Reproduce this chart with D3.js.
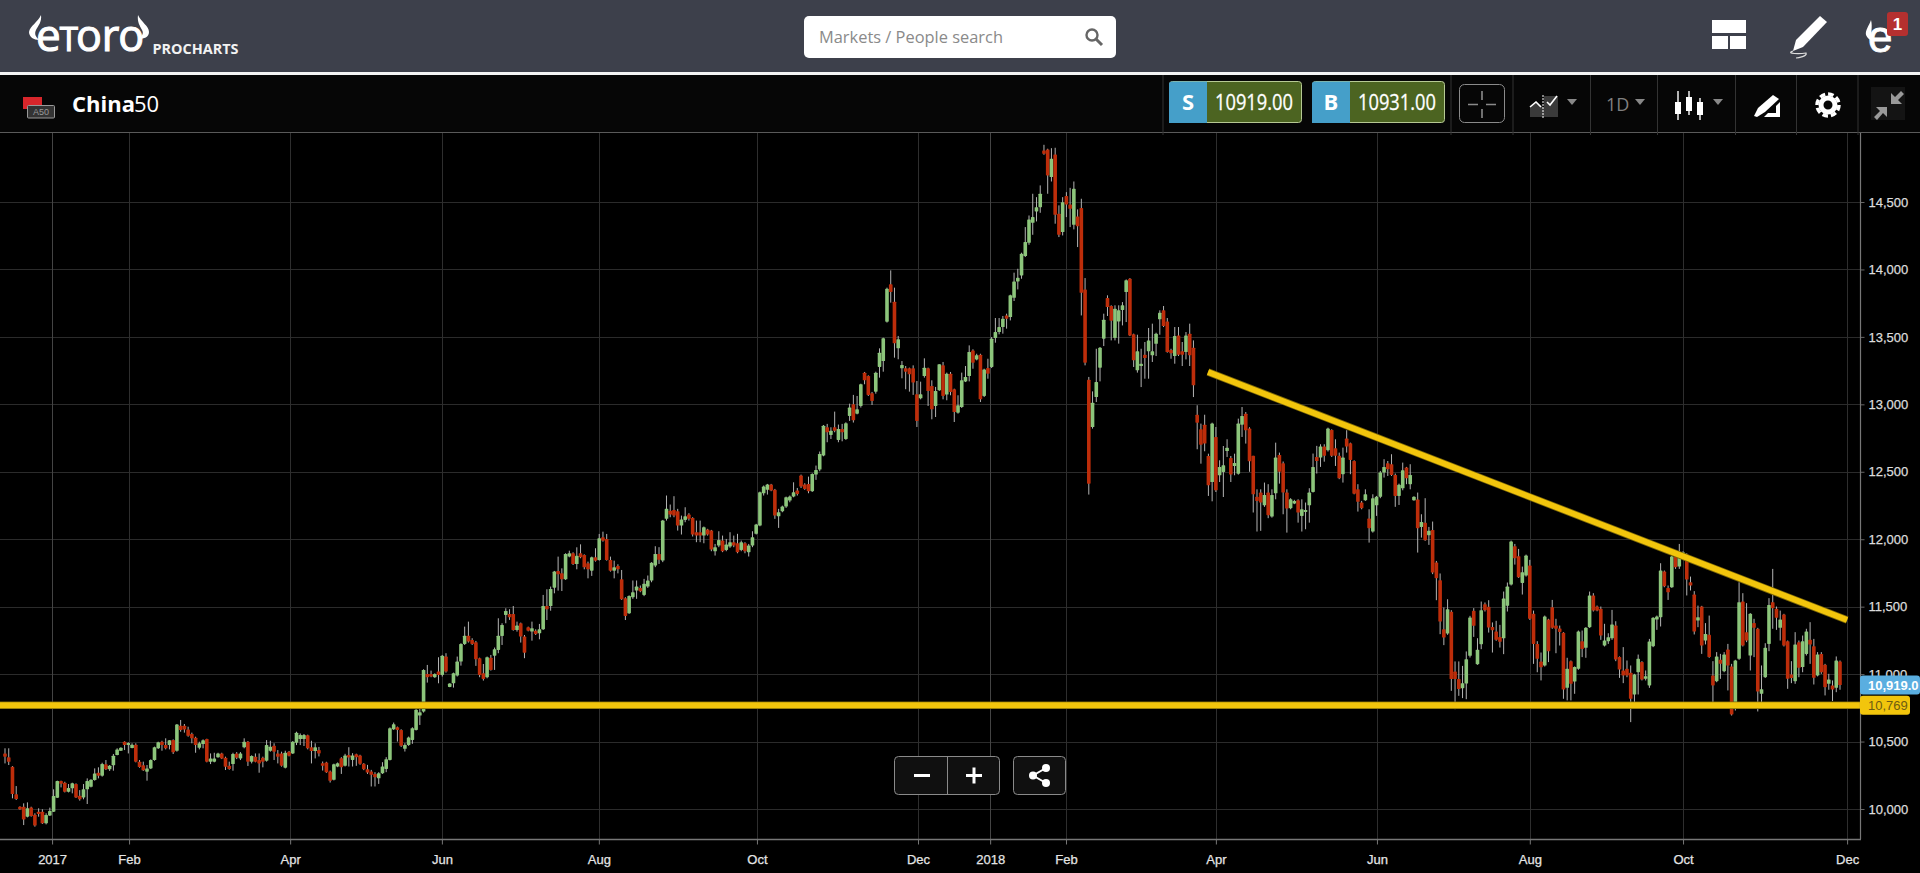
<!DOCTYPE html>
<html>
<head>
<meta charset="utf-8">
<title>China50</title>
<script src="https://cdn.jsdelivr.net/npm/d3@7"></script>
<style>
  html, body { margin: 0; padding: 0; background: #000; overflow: hidden; }
  svg { display: block; }
  text { font-family: "Liberation Sans", Arial, sans-serif; }
  .ui { font-family: "Open Sans", sans-serif; }
</style>
</head>
<body>
<script>
// daily candles, oldest first
const opens = [
  10412,10383,10313,10109,10017,10017,9943,10012,9958,9980,
  9980,9894,9951,9980,10084,10207,10195,10128,10153,10185,
  10099,10086,10146,10165,10215,10269,10247,10331,10294,10324,
  10400,10432,10499,10485,10452,10477,10351,10324,10277,10301,
  10363,10450,10499,10474,10474,10511,10432,10618,10618,10590,
  10556,10529,10454,10482,10519,10351,10351,10383,10412,10380,
  10321,10333,10412,10375,10457,10499,10351,10388,10363,10380,
  10358,10432,10469,10412,10412,10306,10425,10412,10492,10519,
  10519,10546,10457,10430,10437,10339,10344,10278,10216,10315,
  10376,10320,10401,10364,10406,10396,10335,10295,10278,10260,
  10228,10265,10297,10364,10591,10606,10586,10446,10475,10512,
  10586,10693,10722,11001,11001,10977,11019,10994,11130,10905,
  10932,10989,11093,11224,11285,11253,11236,11118,11006,10977,
  11122,11137,11179,11283,11439,11446,11446,11327,11377,11278,
  11347,11315,11322,11303,11332,11505,11505,11641,11765,11747,
  11703,11871,11896,11816,11896,11883,11821,11767,11866,11846,
  12014,12002,11846,11767,11802,11703,11562,11451,11570,11620,
  11639,11587,11649,11694,11805,11891,11842,12151,12212,12217,
  12207,12101,12143,12183,12158,12052,12052,12027,12072,12064,
  11911,11953,11990,11921,11946,11978,11970,11921,11970,11904,
  11953,12040,12101,12341,12366,12405,12366,12170,12207,12242,
  12287,12316,12361,12472,12405,12410,12356,12479,12516,12620,
  12830,12773,12830,12736,12818,12743,12914,13000,12931,12988,
  13235,13210,13082,13094,13277,13321,13613,13890,13761,13415,
  13267,13267,13267,13267,13074,13045,13210,13267,13136,12988,
  13104,13289,13072,13227,13111,12938,12980,13170,13210,13400,
  13333,13368,13062,13269,13277,13492,13536,13573,13659,13647,
  13790,13911,13956,14099,14198,14346,14430,14462,14882,14890,
  14685,14853,14413,14277,14544,14482,14331,14393,14455,13852,
  13183,12832,13054,13272,13487,13788,13729,13492,13615,13699,
  13832,13931,13519,13252,13284,13368,13393,13363,13449,13630,
  13697,13615,13403,13358,13511,13393,13388,13524,13420,12923,
  12815,12849,12617,12424,12758,12474,12499,12654,12602,12543,
  12486,12849,12931,12820,12618,12314,12346,12252,12346,12168,
  12341,12625,12563,12346,12230,12264,12289,12173,12205,12252,
  12351,12610,12605,12687,12660,12810,12674,12618,12482,12746,
  12711,12580,12370,12272,12289,12153,12057,12252,12314,12494,
  12563,12556,12477,12321,12378,12531,12408,12289,12294,12091,
  12123,12030,12069,11827,11696,11333,11301,11462,11019,10963,
  10896,10930,11136,11469,11074,11222,11518,11499,11350,11316,
  11276,11266,11506,11664,11948,11874,11676,11731,11805,11447,
  11224,11093,11064,11405,11496,11360,11338,11306,10898,11096,
  10945,11039,11244,11195,11348,11583,11501,11484,11212,11244,
  11266,11360,11126,11027,11039,11010,10849,11014,11089,10965,
  10916,11207,11405,11422,11760,11639,11644,11872,11797,11879,
  11886,11681,11590,11397,11501,11249,11291,10990,10948,11106,
  11022,11182,11056,10743,11113,11538,11311,11138,11378,11336,
  10854,10977,11224,11533,11484,11343,11442,11244,10997,10948,
  11237,11052,11150,11254,11207,10990,11150,11069,10928,10916,
  10898,11094
];
const closes = [
  10388,10350,10111,10074,9998,9923,10005,9948,9877,9963,
  9894,9956,9985,10096,10207,10188,10128,10155,10190,10086,
  10072,10146,10207,10217,10264,10247,10333,10294,10321,10395,
  10442,10454,10474,10490,10477,10351,10311,10287,10301,10363,
  10457,10494,10474,10450,10509,10420,10627,10585,10590,10543,
  10524,10474,10487,10509,10351,10375,10375,10412,10375,10314,
  10296,10408,10380,10412,10499,10351,10393,10351,10338,10351,
  10474,10462,10425,10388,10321,10417,10395,10499,10566,10548,
  10548,10450,10430,10457,10412,10320,10273,10209,10332,10339,
  10310,10396,10381,10396,10384,10335,10295,10270,10253,10236,
  10265,10315,10369,10599,10628,10586,10468,10475,10530,10599,
  10735,10717,11031,10977,10982,11001,10994,11137,11019,10930,
  11006,11093,11224,11285,11241,11224,11110,10994,10964,11125,
  11031,11184,11285,11365,11468,11421,11327,11360,11278,11159,
  11322,11340,11298,11332,11505,11480,11631,11760,11740,11703,
  11891,11896,11816,11878,11866,11792,11777,11866,11841,12007,
  11989,11846,11767,11792,11777,11555,11431,11579,11607,11649,
  11615,11669,11694,11825,11891,11847,12138,12225,12183,12175,
  12101,12146,12170,12151,12035,12027,12027,12089,12035,11923,
  11941,11995,11911,11960,11978,11953,11904,11978,11911,11953,
  12015,12109,12348,12390,12405,12361,12175,12200,12242,12311,
  12316,12348,12336,12390,12373,12356,12484,12514,12632,12842,
  12793,12805,12805,12818,12793,12860,12976,12882,12963,13149,
  13178,13070,13025,13235,13383,13489,13857,13833,13452,13482,
  13292,13242,13223,13161,12877,13074,13272,13099,12963,13099,
  13297,13062,13227,13091,12943,12993,13178,13203,13388,13309,
  13363,13037,13259,13227,13487,13536,13573,13635,13635,13808,
  13911,13938,14116,14203,14371,14388,14462,14561,14857,14697,
  14820,14405,14257,14499,14482,14450,14598,14321,13827,13309,
  12412,13012,13165,13420,13627,13721,13620,13709,13697,13734,
  13919,13511,13326,13393,13301,13343,13474,13393,13524,13679,
  13580,13388,13378,13506,13368,13368,13511,13363,13141,12864,
  12701,12709,12400,12857,12363,12536,12548,12679,12479,12565,
  12857,12914,12807,12578,12333,12284,12272,12328,12178,12328,
  12605,12501,12346,12227,12296,12284,12198,12222,12217,12346,
  12536,12580,12687,12618,12820,12618,12618,12452,12605,12687,
  12588,12338,12277,12230,12333,12082,12304,12314,12494,12536,
  12519,12477,12321,12403,12511,12452,12477,12314,12082,12128,
  11993,12062,11753,11711,11390,11271,11481,10963,10963,10889,
  10933,11111,11420,11358,11180,11474,11474,11345,11326,11254,
  11239,11560,11649,11983,11859,11718,11755,11879,11410,11224,
  11113,11051,11427,11170,11343,11336,11313,10886,11039,10928,
  11052,11316,11187,11343,11583,11471,11471,11286,11249,11274,
  11368,11108,11034,10990,10990,10817,10997,11113,10960,10985,
  11242,11417,11427,11768,11652,11607,11872,11792,11899,11904,
  11701,11657,11316,11422,11212,11298,11126,10916,11131,11076,
  11145,11064,10701,11101,11533,11212,11249,11447,11343,10871,
  10888,11195,11513,11489,11417,11405,11212,10965,10972,11220,
  11047,11244,11316,11219,10973,11145,11014,10903,10960,10886,
  11101,10919
];
const highs = [
  10450,10450,10318,10170,10020,10042,10049,10017,9968,10005,
  9998,9968,10010,10146,10210,10210,10202,10185,10195,10190,
  10140,10185,10227,10220,10301,10309,10343,10363,10326,10408,
  10450,10457,10502,10494,10487,10487,10363,10351,10326,10368,
  10462,10499,10506,10524,10511,10516,10630,10660,10630,10610,
  10566,10536,10499,10516,10521,10412,10417,10417,10417,10388,
  10351,10417,10422,10422,10524,10504,10398,10412,10412,10388,
  10511,10506,10487,10437,10425,10432,10430,10504,10573,10560,
  10556,10551,10506,10487,10460,10352,10350,10285,10336,10345,
  10384,10409,10458,10414,10410,10402,10340,10327,10290,10273,
  10273,10347,10384,10605,10641,10611,10591,10488,10537,10606,
  10740,10747,11036,11068,11026,11006,11125,11142,11155,10932,
  11011,11130,11229,11352,11389,11266,11246,11122,11075,11130,
  11142,11197,11414,11377,11488,11481,11505,11389,11382,11290,
  11352,11389,11332,11372,11587,11629,11649,11765,11871,11784,
  11896,11915,11903,11940,11962,11888,11834,11871,11933,12039,
  12056,12039,11871,11841,11814,11772,11570,11584,11694,11694,
  11657,11706,11731,11830,11948,11941,12143,12324,12257,12319,
  12225,12175,12237,12193,12163,12138,12138,12094,12077,12069,
  11965,12059,12027,12002,12052,12027,12040,11990,11978,11965,
  12059,12114,12353,12398,12410,12410,12373,12225,12249,12316,
  12324,12422,12380,12479,12415,12464,12489,12546,12650,12847,
  12855,12830,12946,12850,12855,12867,13005,13070,13062,13153,
  13240,13215,13092,13242,13415,13494,13865,13993,13865,13507,
  13321,13284,13272,13289,13173,13168,13341,13272,13178,13129,
  13297,13314,13235,13240,13116,13067,13235,13284,13437,13408,
  13375,13375,13264,13338,13499,13640,13640,13655,13672,13813,
  13976,14005,14124,14314,14400,14561,14536,14623,14924,14895,
  14899,14902,14475,14536,14573,14605,14652,14445,14524,13936,
  13203,13096,13412,13425,13672,13808,13734,13734,13734,13758,
  13926,13936,13524,13516,13412,13462,13566,13598,13531,13697,
  13729,13640,13412,13573,13573,13462,13536,13598,13474,12993,
  12857,12923,12634,12864,12832,12585,12691,12741,12617,12634,
  12894,12980,12943,12830,12618,12370,12370,12420,12408,12370,
  12716,12642,12576,12370,12304,12292,12296,12296,12272,12378,
  12635,12692,12704,12704,12827,12815,12741,12642,12679,12808,
  12716,12585,12408,12284,12370,12222,12333,12321,12506,12593,
  12580,12630,12487,12412,12568,12536,12556,12318,12346,12185,
  12304,12091,12131,11839,11746,11494,11555,11474,11094,11094,
  11061,11168,11432,11489,11266,11538,11531,11548,11383,11395,
  11365,11612,11679,11990,11965,11928,11797,11886,11847,11471,
  11244,11160,11434,11410,11550,11410,11360,11311,11121,11101,
  11057,11323,11323,11348,11612,11600,11508,11501,11373,11303,
  11476,11392,11131,11200,11101,11064,11002,11145,11096,11027,
  11261,11422,11434,11822,11768,11657,11876,11879,11965,11911,
  11896,11723,11615,11508,11506,11378,11434,11096,11163,11150,
  11163,11224,11076,11106,11681,11600,11526,11452,11410,11343,
  11064,11229,11563,11780,11501,11471,11447,11249,11096,11311,
  11249,11286,11336,11385,11261,11163,11163,11076,11002,10953,
  11131,11101
];
const lows = [
  10338,10326,10079,10067,9995,9881,9938,9943,9869,9943,
  9889,9886,9948,9978,10082,10160,10123,10123,10116,10082,
  10062,10072,10037,10160,10210,10227,10240,10289,10282,10284,
  10398,10430,10437,10412,10450,10346,10306,10282,10210,10296,
  10358,10445,10432,10442,10442,10408,10425,10573,10566,10536,
  10487,10417,10442,10450,10346,10333,10346,10380,10370,10289,
  10291,10284,10370,10363,10450,10319,10338,10346,10269,10309,
  10351,10425,10363,10338,10314,10301,10390,10408,10474,10474,
  10467,10442,10338,10375,10390,10285,10268,10196,10212,10310,
  10260,10315,10315,10315,10320,10328,10288,10260,10167,10167,
  10186,10260,10273,10360,10586,10500,10460,10426,10468,10483,
  10582,10623,10715,10937,10977,10972,10932,10982,11011,10903,
  10900,10982,11063,11216,11234,11216,11061,10977,10952,10969,
  11026,11031,11155,11216,11377,11402,11322,11315,11234,11118,
  11317,11248,11290,11258,11327,11401,11470,11599,11619,11616,
  11698,11866,11809,11777,11859,11777,11710,11728,11834,11841,
  11982,11841,11760,11710,11747,11550,11401,11446,11558,11558,
  11607,11578,11639,11681,11793,11817,11830,12138,12163,12163,
  12064,12035,12126,12138,12020,11978,11978,11970,12027,11911,
  11879,11941,11904,11911,11936,11941,11896,11911,11896,11872,
  11941,12035,12096,12324,12331,12356,12151,12084,12200,12232,
  12274,12311,12324,12380,12366,12341,12351,12440,12504,12615,
  12719,12743,12793,12719,12726,12736,12877,12865,12926,12976,
  13149,13062,12995,13079,13198,13242,13606,13754,13346,13334,
  13193,13112,13094,13070,12832,13037,13198,12988,12889,12906,
  13100,13037,13030,13067,12869,12931,12973,13165,13170,13264,
  13326,13017,13054,13190,13269,13457,13519,13524,13561,13622,
  13766,13852,13931,14092,14183,14257,14356,14420,14850,14561,
  14652,14339,14240,14252,14388,14314,14297,14166,13659,13289,
  12331,12820,13017,13170,13432,13655,13474,13474,13450,13585,
  13610,13506,13277,13235,13128,13190,13190,13314,13358,13516,
  13573,13383,13338,13301,13358,13284,13333,13284,13054,12667,
  12560,12652,12321,12281,12350,12424,12313,12610,12424,12474,
  12479,12758,12709,12500,12198,12057,12062,12240,12156,12160,
  12296,12412,12185,12049,12222,12260,12123,12057,12074,12123,
  12346,12487,12536,12575,12650,12610,12543,12445,12420,12642,
  12482,12333,12205,12222,12284,11975,12049,12173,12304,12457,
  12469,12469,12240,12254,12363,12408,12370,12285,11901,12012,
  11988,11958,11741,11548,11296,11215,11291,10876,10740,10839,
  10822,10814,11123,11276,11069,11185,11464,11308,11160,11247,
  11197,11148,11464,11657,11812,11713,11590,11723,11402,11076,
  11014,10953,11056,11089,11336,11155,11212,10817,10805,10805,
  10854,11032,11126,11121,11343,11464,11466,11254,11205,11224,
  11254,11096,10972,10933,10977,10644,10792,10849,10953,10953,
  10898,11200,11328,11353,11644,11550,11639,11780,11780,11872,
  11583,11620,11294,11348,11150,11220,11121,10792,10940,10965,
  11014,10879,10693,10730,11106,11205,11237,11027,11126,10723,
  10792,10972,11170,11336,11328,11249,11205,10891,10933,10928,
  10977,11014,11138,11076,10923,10983,11002,10842,10884,10800,
  10866,10884
];

// gridlines and axis labels
const priceTicks = [10000, 10500, 11000, 11500, 12000, 12500, 13000, 13500, 14000, 14500];
const dateLabels = ['2017', 'Feb', 'Apr', 'Jun', 'Aug', 'Oct', 'Dec', '2018', 'Feb', 'Apr', 'Jun', 'Aug', 'Oct', 'Dec'];
const dateTickAt = [12.6, 33.2, 76.3, 116.9, 158.9, 201.2, 244.3, 263.6, 283.9, 324, 367.1, 408, 449, 492.9];

// drawn trend lines: [candle, price]
const supportLine = [[-2, 10769], [497, 10769]];
const resistanceLine = [[321.9, 13240], [492.9, 11401]];
const supportLabel = 10769;
const lastPrice = 10919;

const W = 1920, H = 873;
const plot = { left: 0, right: 1860, top: 133, bottom: 839 };
const days = d3.range(opens.length);

const x = d3.scaleLinear().domain([0, opens.length - 1]).range([5, 1840]);
const y = d3.scaleLinear().domain([10000, 14500]).range([809, 202]);

const svg = d3.select('body').append('svg').attr('width', W).attr('height', H);
svg.append('rect').attr('width', W).attr('height', H).attr('fill', '#000');

function drawGrid() {
  const grid = svg.append('g');
  grid.selectAll('.h').data(priceTicks).join('line')
    .attr('x1', plot.left).attr('x2', plot.right)
    .attr('y1', d => Math.round(y(d)) + 0.5).attr('y2', d => Math.round(y(d)) + 0.5)
    .attr('stroke', '#2b2b2b');
  grid.selectAll('.v').data(dateTickAt).join('line')
    .attr('x1', d => Math.round(x(d)) + 0.5).attr('x2', d => Math.round(x(d)) + 0.5)
    .attr('y1', plot.top).attr('y2', plot.bottom)
    .attr('stroke', (_, i) => /^\d/.test(dateLabels[i]) ? '#444' : '#2e2e2e');
}

function drawCandles() {
  const g = svg.append('g');
  g.selectAll('.wick').data(days).join('line')
    .attr('x1', i => x(i)).attr('x2', i => x(i))
    .attr('y1', i => y(highs[i])).attr('y2', i => y(lows[i]))
    .attr('stroke', '#b4b4b4').attr('stroke-width', 1);
  g.selectAll('.body').data(days).join('rect')
    .attr('x', i => x(i) - 1.8).attr('width', 3.6)
    .attr('y', i => y(Math.max(opens[i], closes[i])))
    .attr('height', i => Math.max(2, Math.abs(y(opens[i]) - y(closes[i]))))
    .attr('rx', 0.6)
    .attr('fill', i => closes[i] >= opens[i] ? '#8cc57b' : '#bd2d0a');
}

function drawTrendLines() {
  const line = d3.line().x(d => x(d[0])).y(d => y(d[1]));
  [supportLine, resistanceLine].forEach(pts => {
    svg.append('path').attr('d', line(pts)).attr('fill', 'none')
      .attr('stroke', '#7d6808').attr('stroke-width', 7.4);
    svg.append('path').attr('d', line(pts)).attr('fill', 'none')
      .attr('stroke', '#f2c50c').attr('stroke-width', 5.8);
  });
}

function drawAxes() {
  const right = svg.append('g').attr('transform', `translate(${plot.right + 0.5},0)`)
    .call(d3.axisRight(y).tickValues(priceTicks).tickSize(4).tickPadding(4).tickFormat(d3.format(',')));
  right.select('.domain').remove();
  right.selectAll('line').attr('stroke', '#666');
  right.selectAll('text').attr('fill', '#dcdcdc').attr('stroke', '#dcdcdc').attr('stroke-width', 0.25)
    .attr('font-size', 13).attr('font-family', '"Liberation Sans"');

  const bottom = svg.append('g').attr('transform', `translate(0,${plot.bottom + 0.5})`)
    .call(d3.axisBottom(x).tickValues(dateTickAt).tickSize(5).tickPadding(10).tickFormat((_, i) => dateLabels[i]));
  bottom.select('.domain').remove();
  bottom.selectAll('line').attr('stroke', '#777');
  bottom.selectAll('text').attr('fill', '#e4e4e4').attr('stroke', '#e4e4e4').attr('stroke-width', 0.25)
    .attr('font-size', 13).attr('font-family', '"Liberation Sans"');

  svg.append('line').attr('x1', 0).attr('x2', plot.right + 1)
    .attr('y1', plot.bottom + 0.5).attr('y2', plot.bottom + 0.5).attr('stroke', '#777').attr('stroke-width', 1.4);
  svg.append('line').attr('x1', plot.right + 0.5).attr('x2', plot.right + 0.5)
    .attr('y1', plot.top).attr('y2', plot.bottom).attr('stroke', '#777').attr('stroke-width', 1.2);
}

function priceBadge(value, label, fill, color, width, weight) {
  const cy = y(value);
  svg.append('rect').attr('x', plot.right).attr('y', cy - 9.5).attr('width', width).attr('height', 19)
    .attr('rx', 3).attr('fill', fill);
  svg.append('text').attr('x', plot.right + 8).attr('y', cy + 4.8)
    .attr('font-size', 13).attr('font-weight', weight).attr('fill', color).text(label);
}

function drawHeader() {
  svg.append('rect').attr('width', W).attr('height', 72).attr('fill', '#3d404b');
  svg.append('rect').attr('y', 72).attr('width', W).attr('height', 3).attr('fill', '#f4f4f4');
  svg.append('rect').attr('y', 75).attr('width', W).attr('height', 57).attr('fill', '#060606');
  svg.append('line').attr('x1', 0).attr('x2', W).attr('y1', 132.5).attr('y2', 132.5).attr('stroke', '#5a5a5a');

  // logo
  const logo = svg.append('text').attr('class', 'ui').attr('x', 36).attr('y', 51)
    .attr('fill', '#fff').attr('stroke', '#fff').attr('stroke-width', 1.1)
    .attr('font-family', 'Lato').attr('font-size', 44);
  logo.append('tspan').text('e');
  logo.append('tspan').attr('font-size', 33).attr('dx', -1).text('T');
  logo.append('tspan').attr('dx', -2).text('or').attr('font-size', 43);
  logo.append('tspan').attr('dx', -1).text('o').attr('font-size', 43);
  svg.append('path').attr('fill', '#fff')
    .attr('d', 'M41 15C38 22 30 26 29 32C29 37 34 40 39 40C36 37 34 34 36 30C38 26 42 22 41 15Z');
  svg.append('path').attr('fill', '#fff')
    .attr('d', 'M138 15C141 22 149 26 149 32C149 37 144 39 139 39C142 36 144 33 142 30C140 26 137 22 138 15Z');
  svg.append('text').attr('class', 'ui').attr('x', 152.5).attr('y', 54).attr('fill', '#f2f2f2')
    .attr('font-size', 14).attr('font-weight', 700).attr('textLength', 86).attr('lengthAdjust', 'spacingAndGlyphs').text('PROCHARTS');

  // search box
  svg.append('rect').attr('x', 804).attr('y', 16).attr('width', 312).attr('height', 42).attr('rx', 5).attr('fill', '#fff');
  svg.append('text').attr('class', 'ui').attr('x', 819).attr('y', 43).attr('fill', '#8a8a8a')
    .attr('font-size', 16.5).attr('textLength', 184).attr('lengthAdjust', 'spacingAndGlyphs').text('Markets / People search');
  svg.append('circle').attr('cx', 1092).attr('cy', 35).attr('r', 5.5).attr('fill', 'none').attr('stroke', '#666').attr('stroke-width', 2.4);
  svg.append('line').attr('x1', 1096).attr('y1', 39).attr('x2', 1102).attr('y2', 45).attr('stroke', '#666').attr('stroke-width', 3);

  // top right icons
  [[1712, 20, 34, 13], [1712, 36, 16, 13], [1730, 36, 16, 13]].forEach(r => {
    svg.append('rect').attr('x', r[0]).attr('y', r[1]).attr('width', r[2]).attr('height', r[3]).attr('fill', '#fff');
  });
  svg.append('path').attr('fill', '#fff')
    .attr('d', 'M1820 16L1827 22L1803 47L1793 51L1796 40Z');
  svg.append('path').attr('fill', 'none').attr('stroke', '#ddd').attr('stroke-width', 1.2)
    .attr('d', 'M1793 51C1785 54 1800 54 1806 53C1808 56 1798 58 1796 58');
  svg.append('text').attr('x', 1868).attr('y', 52).attr('fill', '#fff').attr('stroke', '#fff').attr('stroke-width', 0.8)
    .attr('font-family', '"Liberation Serif"').attr('font-size', 44).text('e');
  svg.append('path').attr('fill', '#fff').attr('d', 'M1871 20C1869 26 1865 30 1866 35C1867 38 1870 40 1872 40C1870 35 1873 27 1871 20Z');
  svg.append('rect').attr('x', 1887).attr('y', 12).attr('width', 21).attr('height', 24).attr('rx', 3).attr('fill', '#b5302f');
  svg.append('text').attr('x', 1897.5).attr('y', 30).attr('text-anchor', 'middle').attr('fill', '#fff').attr('font-size', 17).attr('font-weight', 700).text('1');
}

function drawToolbar() {
  // instrument
  svg.append('rect').attr('x', 23).attr('y', 97).attr('width', 19).attr('height', 12).attr('fill', '#d8262b');
  svg.append('rect').attr('x', 27.5).attr('y', 105.5).attr('width', 27).attr('height', 12.5).attr('rx', 1).attr('fill', '#333').attr('stroke', '#999');
  svg.append('text').attr('x', 33).attr('y', 115).attr('fill', '#999').attr('font-size', 9).text('A50');
  const name = svg.append('text').attr('class', 'ui').attr('x', 72).attr('y', 112).attr('fill', '#fff').attr('font-size', 22);
  name.append('tspan').attr('font-weight', 700).text('China');
  name.append('tspan').attr('dx', -1).text('50');

  // separators
  [1163, 1451, 1513, 1590.5, 1657.5, 1735.5, 1796.5, 1858].forEach(sx => {
    svg.append('line').attr('x1', sx).attr('x2', sx).attr('y1', 75).attr('y2', 135).attr('stroke', '#333');
  });

  // sell and buy buttons
  [['S', '10919.00', 1169], ['B', '10931.00', 1312]].forEach(b => {
    const bx = b[2];
    svg.append('rect').attr('x', bx + 0.5).attr('y', 81.5).attr('width', 132).attr('height', 41).attr('rx', 3)
      .attr('fill', '#4c6421').attr('stroke', '#b6c994');
    svg.append('path').attr('d', `M${bx + 3} 81.5H${bx + 38}V123H${bx}V84Q${bx} 81.5 ${bx + 3} 81.5Z`).attr('fill', '#459fc9');
    svg.append('text').attr('class', 'ui').attr('x', bx + 19).attr('y', 110).attr('text-anchor', 'middle')
      .attr('fill', '#fff').attr('font-size', 22).attr('font-weight', 700).text(b[0]);
    svg.append('text').attr('class', 'ui').attr('x', bx + 46).attr('y', 110)
      .attr('fill', '#fff').attr('stroke', '#fff').attr('stroke-width', 0.3).attr('font-size', 22)
      .attr('textLength', 78).attr('lengthAdjust', 'spacingAndGlyphs').text(b[1]);
  });

  // crosshair
  svg.append('rect').attr('x', 1459.5).attr('y', 84.5).attr('width', 45).attr('height', 38).attr('rx', 5).attr('fill', 'none').attr('stroke', '#8a8a8a');
  svg.append('path').attr('stroke', '#8a8a8a').attr('stroke-width', 1.6).attr('fill', 'none')
    .attr('d', 'M1482 91V100M1482 109V118M1468 104.5H1478M1486 104.5H1496');

  // chart type icons
  svg.append('path').attr('fill', '#3a3a3a').attr('d', 'M1530 117V106L1536 101L1544 108V96H1558V117Z');
  svg.append('path').attr('fill', 'none').attr('stroke', '#fff').attr('stroke-width', 1.6)
    .attr('d', 'M1530 107L1536 102L1541 107M1547 102L1550 105L1557 96');
  svg.append('line').attr('x1', 1543).attr('x2', 1543).attr('y1', 95).attr('y2', 118).attr('stroke', '#fff').attr('stroke-dasharray', '2 1');
  [1572, 1640, 1718].forEach(cx => {
    svg.append('path').attr('d', `M${cx - 5} 99H${cx + 5}L${cx} 105Z`).attr('fill', '#888');
  });
  svg.append('text').attr('class', 'ui').attr('x', 1606).attr('y', 111).attr('fill', '#808080').attr('font-size', 18).text('1D');

  // candle icon
  [[1678, 102, 12, 91, 120], [1689, 97, 14, 91, 115], [1700, 102, 13, 98, 120]].forEach(c => {
    svg.append('line').attr('x1', c[0]).attr('x2', c[0]).attr('y1', c[3]).attr('y2', c[4]).attr('stroke', '#fff').attr('stroke-width', 1.4);
    svg.append('rect').attr('x', c[0] - 3).attr('y', c[1]).attr('width', 6).attr('height', c[2]).attr('fill', '#fff');
  });

  // drawing tools
  svg.append('path').attr('fill', '#fff').attr('d', 'M1773 95L1779 99L1765 112L1757 117L1754 116L1758 108Z');
  svg.append('path').attr('fill', '#fff').attr('d', 'M1780 102V117H1764L1768 113H1776V106Z');

  // settings gear
  svg.append('circle').attr('cx', 1828).attr('cy', 105).attr('r', 7).attr('fill', 'none').attr('stroke', '#fff').attr('stroke-width', 5);
  svg.append('circle').attr('cx', 1828).attr('cy', 105).attr('r', 11).attr('fill', 'none').attr('stroke', '#fff').attr('stroke-width', 3.5).attr('stroke-dasharray', '5.6 3');

  // collapse
  svg.append('rect').attr('x', 1871).attr('y', 87).attr('width', 34).attr('height', 33).attr('fill', '#141414');
  svg.append('path').attr('fill', '#9a9a9a').attr('d', 'M1891 93V104H1902L1898 100L1904 94L1901 91L1895 97Z');
  svg.append('path').attr('fill', '#9a9a9a').attr('d', 'M1887 117V107H1876L1880 111L1874 117L1877 120L1883 113Z');
}

function drawZoomControls() {
  const panel = svg.append('g');
  panel.append('rect').attr('x', 894.5).attr('y', 756.5).attr('width', 105).attr('height', 38).attr('rx', 4).attr('fill', '#101010').attr('stroke', '#8a8a8a');
  panel.append('line').attr('x1', 947.5).attr('x2', 947.5).attr('y1', 757).attr('y2', 794).attr('stroke', '#8a8a8a');
  panel.append('rect').attr('x', 1013.5).attr('y', 756.5).attr('width', 52).attr('height', 38).attr('rx', 4).attr('fill', '#101010').attr('stroke', '#8a8a8a');
  panel.append('path').attr('stroke', '#fff').attr('stroke-width', 3).attr('d', 'M914 775.5H930M966 775.5H982M974 767.5V783.5');
  panel.append('path').attr('stroke', '#fff').attr('stroke-width', 2).attr('fill', 'none').attr('d', 'M1046 768L1033 775.5L1046 783');
  [[1046, 768], [1033, 775.5], [1046, 783]].forEach(p => {
    panel.append('circle').attr('cx', p[0]).attr('cy', p[1]).attr('r', 4).attr('fill', '#fff');
  });
}

drawGrid();
drawCandles();
drawTrendLines();
drawAxes();
priceBadge(lastPrice, d3.format(',.1f')(lastPrice), '#5aaee0', '#fff', 60, 700);
priceBadge(supportLabel, d3.format(',')(supportLabel), '#f2c50c', '#6e5c12', 50, 400);
drawZoomControls();
drawHeader();
drawToolbar();
</script>
</body>
</html>
